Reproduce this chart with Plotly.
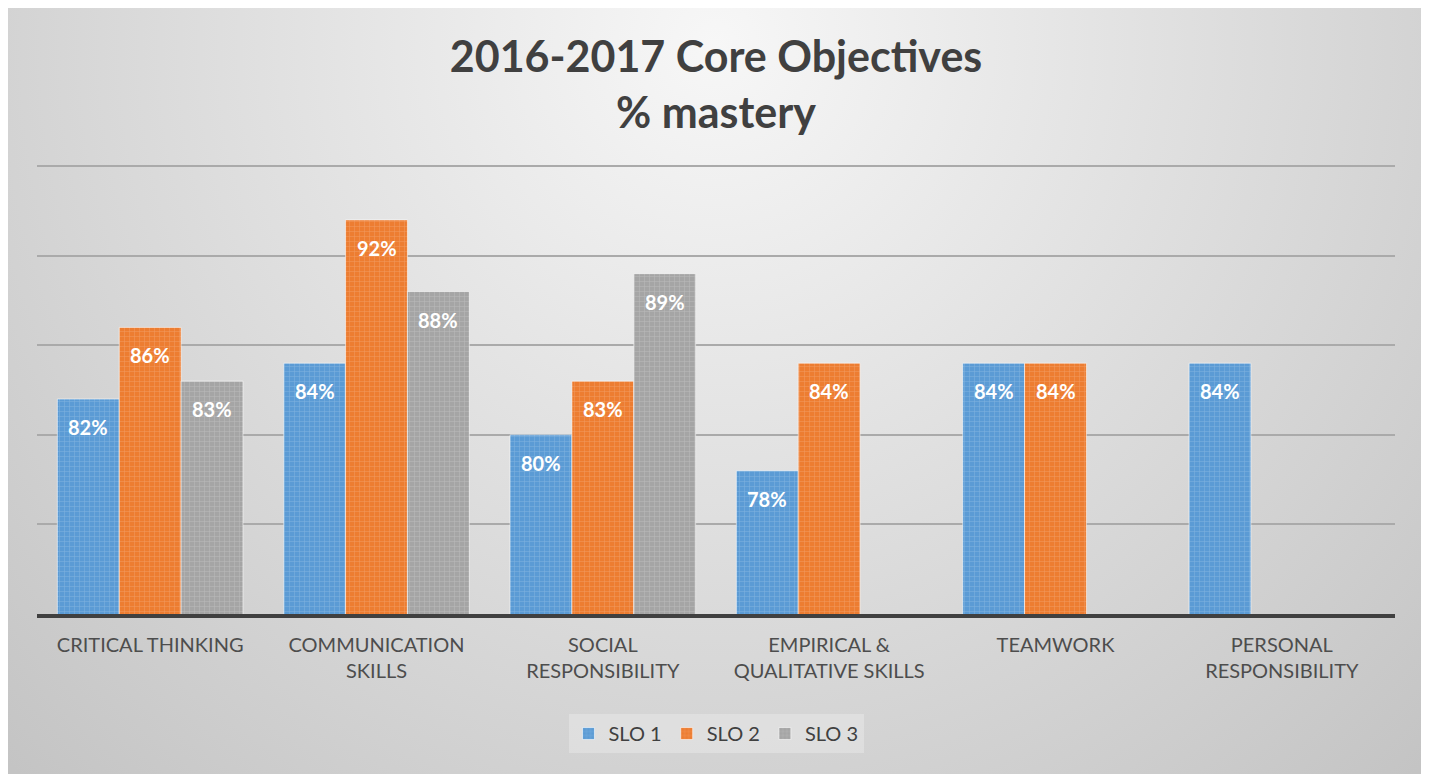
import base64
import plotly.graph_objects as go

categories = ["CRITICAL THINKING", "COMMUNICATION<br>SKILLS", "SOCIAL<br>RESPONSIBILITY",
              "EMPIRICAL &amp;<br>QUALITATIVE SKILLS", "TEAMWORK", "PERSONAL<br>RESPONSIBILITY"]
series_names = ["SLO 1", "SLO 2", "SLO 3"]
slo1 = [82, 84, 80, 78, 84, 84]
slo2 = [86, 92, 83, 84, 84, None]
slo3 = [83, 88, 89, None, None, None]
colors = ["#5b9bd5", "#ed7d31", "#a5a5a5"]

OFF = 8  # page body margin
Y0, Y1 = 70, 95.4
PX_PER_UNIT = 448 / 25
W, H = 1429 - OFF, 774 - OFF
ML = 37 - OFF
MR = 1429 - 1395
MB = 774 - 614
MT = round(614 - (Y1 - Y0) * PX_PER_UNIT) - OFF
PW, PH = W - ML - MR, H - MT - MB

FONT = "Lato, 'Open Sans', sans-serif"
BARGAP = 0.18

fig = go.Figure()
all_vals = [slo1, slo2, slo3]
for name, vals, col in zip(series_names, all_vals, colors):
    fig.add_trace(go.Bar(
        name=name, x=categories, y=vals,
        marker=dict(color=col,
                    line=dict(color="rgba(255,255,255,0.55)", width=1),
                    pattern=dict(shape="+", bgcolor=col, fgcolor="#ffffff", fgopacity=0.22,
                                 size=5, solidity=0.2, fillmode="replace")),
        hoverinfo="x+y",
    ))

# data labels, positioned from the data through the axes
bw_cat = (1 - BARGAP) / len(all_vals)
for i, vals in enumerate(all_vals):
    for j, v in enumerate(vals):
        if v is None:
            continue
        fig.add_annotation(x=j + (i - 1) * bw_cat, y=v, xref="x", yref="y",
                           text=f"<b>{v}%</b>", showarrow=False,
                           yanchor="middle", yshift=-28,
                           font=dict(family=FONT, size=20, color="white"))

# background radial gradient panel
bw, bh = 1417, 770
svg = (f'<svg xmlns="http://www.w3.org/2000/svg" width="{bw}" height="{bh}" viewBox="0 0 {bw} {bh}">'
       '<defs><radialGradient id="g" gradientUnits="userSpaceOnUse" cx="708" cy="40" r="1010">'
       '<stop offset="0" stop-color="#f7f7f7"/><stop offset="1" stop-color="#c4c4c4"/>'
       '</radialGradient></defs>'
       f'<rect x="0.5" y="0.5" width="{bw-1}" height="{bh+5}" fill="url(#g)" stroke="#bdbdbd" stroke-width="1"/></svg>')
src = "data:image/svg+xml;base64," + base64.b64encode(svg.encode()).decode()
px0, py0 = 7 - OFF, 4 - OFF
fig.add_layout_image(dict(
    source=src, xref="paper", yref="paper",
    x=(px0 - ML) / PW, y=(H - MB - py0) / PH,
    sizex=bw / PW, sizey=bh / PH, xanchor="left", yanchor="top",
    sizing="stretch", layer="below"))

fig.update_layout(
    width=W, height=H,
    margin=dict(l=ML, r=MR, t=MT, b=MB),
    paper_bgcolor="white", plot_bgcolor="rgba(0,0,0,0)",
    barmode="group", bargap=BARGAP, bargroupgap=0,
    title=dict(text="<b>2016-2017 Core Objectives<br>% mastery</b>",
               x=0.5, xanchor="center", xref="paper",
               y=1 - (72 - OFF) / H, yanchor="middle", yref="container",
               font=dict(family=FONT, size=43, color="#404040")),
    showlegend=True,
    legend=dict(orientation="h", x=0.5, xanchor="center", xref="paper",
                y=(H - MB - (714 - OFF)) / PH, yanchor="top", yref="paper",
                bgcolor="rgba(255,255,255,0.25)",
                font=dict(family=FONT, size=20, color="#404040"),
                traceorder="normal"),
    xaxis=dict(showline=True, linecolor="#404040", linewidth=4,
               ticks="", ticklabelstandoff=10,
               tickfont=dict(family=FONT, size=20, color="#4d4d4d"),
               showgrid=False, fixedrange=True),
    yaxis=dict(range=[Y0, Y1], dtick=5, tick0=70, showticklabels=False,
               showgrid=True, gridcolor="#aaaaaa", gridwidth=2,
               zeroline=False, showline=False, ticks=""),
)

fig.write_html("out.html")
